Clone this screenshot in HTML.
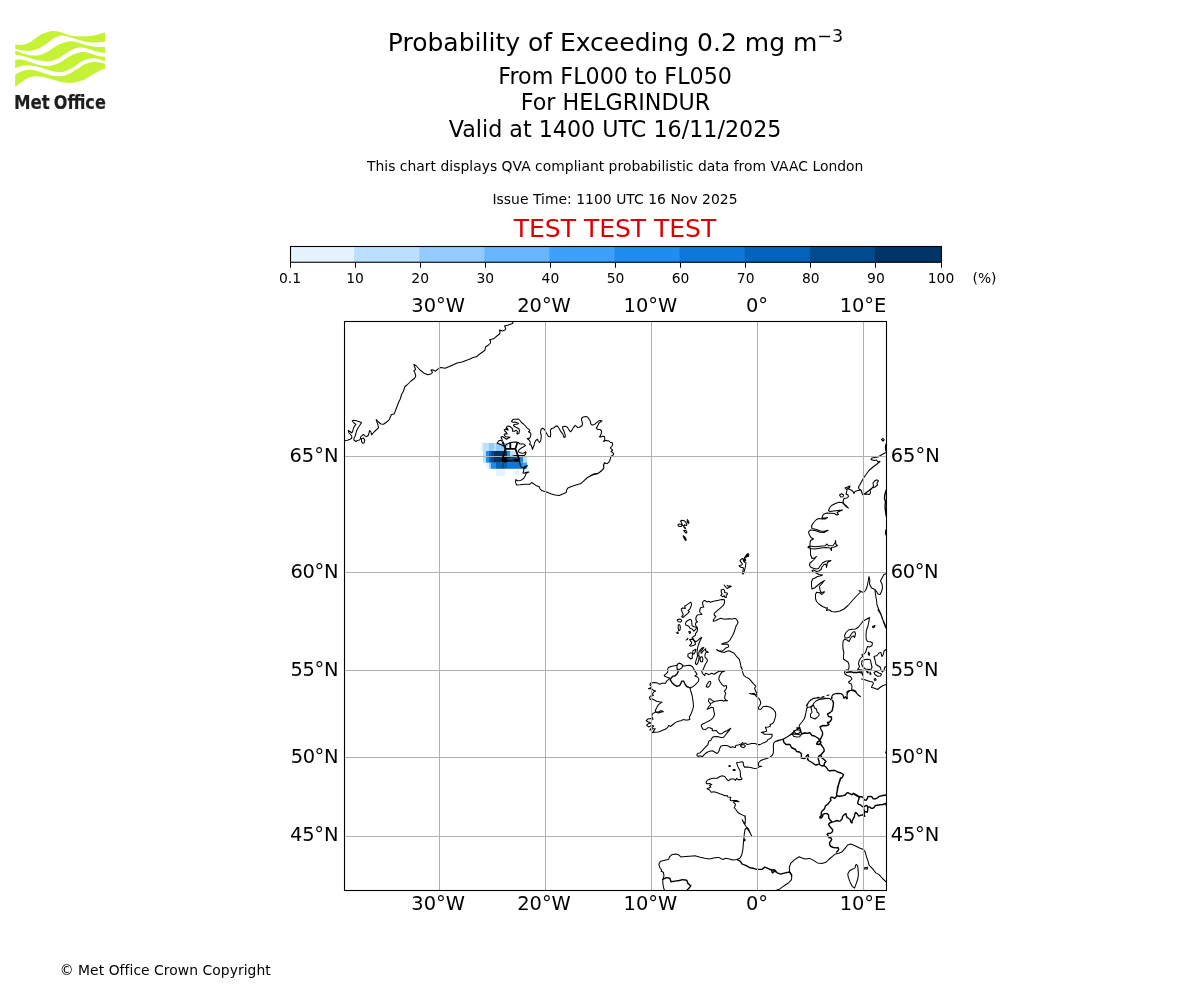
<!DOCTYPE html>
<html lang="en"><head><meta charset="utf-8"><title>Probability of Exceeding 0.2 mg m-3</title>
<style>
html,body{margin:0;padding:0;background:#fff}
body{width:1200px;height:1000px;overflow:hidden}
svg{display:block}
svg text{font-family:"DejaVu Sans","Liberation Sans",sans-serif}
</style></head><body>
<svg width="1200" height="1000" viewBox="0 0 1200 1000">
<rect width="1200" height="1000" fill="#fff"/>
<path d="M15.17 44.58 C16.39 44.62 19.89 45.32 22.50 44.83 C25.11 44.35 28.06 43.17 30.83 41.67 C33.61 40.17 36.39 37.43 39.17 35.83 C41.94 34.24 45.00 32.89 47.50 32.08 C50.00 31.28 51.81 30.93 54.17 31.00 C56.53 31.07 59.03 31.76 61.67 32.50 C64.31 33.24 66.81 34.79 70.00 35.42 C73.19 36.04 76.94 36.25 80.83 36.25 C84.72 36.25 89.31 36.04 93.33 35.42 C97.36 34.79 103.06 32.99 105.00 32.50 L105.00 41.67 C103.06 41.81 96.67 42.50 93.33 42.50 C90.00 42.50 87.78 42.22 85.00 41.67 C82.22 41.11 79.44 40.00 76.67 39.17 C73.89 38.33 70.83 37.29 68.33 36.67 C65.83 36.04 63.89 35.28 61.67 35.42 C59.44 35.56 57.36 36.25 55.00 37.50 C52.64 38.75 50.14 41.11 47.50 42.92 C44.86 44.72 41.94 47.01 39.17 48.33 C36.39 49.65 33.61 50.49 30.83 50.83 C28.06 51.18 25.11 50.76 22.50 50.42 C19.89 50.07 16.39 49.03 15.17 48.75Z M15.17 50.83 C16.39 51.25 19.89 52.57 22.50 53.33 C25.11 54.10 28.06 55.14 30.83 55.42 C33.61 55.69 36.39 55.62 39.17 55.00 C41.94 54.38 44.72 53.13 47.50 51.67 C50.28 50.21 53.06 47.78 55.83 46.25 C58.61 44.72 61.53 43.33 64.17 42.50 C66.81 41.67 69.17 41.18 71.67 41.25 C74.17 41.32 76.25 42.15 79.17 42.92 C82.08 43.68 86.11 45.14 89.17 45.83 C92.22 46.53 94.86 46.87 97.50 47.08 C100.14 47.29 103.75 47.08 105.00 47.08 L105.00 52.92 C103.75 52.71 100.14 52.29 97.50 51.67 C94.86 51.04 91.94 49.86 89.17 49.17 C86.39 48.47 83.33 47.57 80.83 47.50 C78.33 47.43 76.53 47.85 74.17 48.75 C71.81 49.65 69.31 51.32 66.67 52.92 C64.03 54.51 61.11 56.94 58.33 58.33 C55.56 59.72 52.78 60.83 50.00 61.25 C47.22 61.67 44.44 61.18 41.67 60.83 C38.89 60.49 36.25 59.93 33.33 59.17 C30.42 58.40 27.19 57.01 24.17 56.25 C21.14 55.49 16.67 54.86 15.17 54.58Z M15.17 60.00 C16.11 59.93 18.92 59.44 20.83 59.58 C22.75 59.72 24.31 60.14 26.67 60.83 C29.03 61.53 32.22 62.92 35.00 63.75 C37.78 64.58 40.56 65.56 43.33 65.83 C46.11 66.11 48.89 65.97 51.67 65.42 C54.44 64.86 57.22 63.89 60.00 62.50 C62.78 61.11 65.56 58.61 68.33 57.08 C71.11 55.56 74.17 54.17 76.67 53.33 C79.17 52.50 81.11 52.08 83.33 52.08 C85.56 52.08 87.64 52.71 90.00 53.33 C92.36 53.96 95.00 55.21 97.50 55.83 C100.00 56.46 103.75 56.88 105.00 57.08 L105.00 61.25 C104.17 60.97 101.94 60.07 100.00 59.58 C98.06 59.10 95.56 58.40 93.33 58.33 C91.11 58.26 88.89 58.47 86.67 59.17 C84.44 59.86 82.50 60.97 80.00 62.50 C77.50 64.03 74.44 66.81 71.67 68.33 C68.89 69.86 66.11 71.11 63.33 71.67 C60.56 72.22 57.78 72.01 55.00 71.67 C52.22 71.32 49.44 70.42 46.67 69.58 C43.89 68.75 41.11 67.36 38.33 66.67 C35.56 65.97 32.64 65.56 30.00 65.42 C27.36 65.28 24.97 65.35 22.50 65.83 C20.03 66.32 16.39 67.92 15.17 68.33Z M15.17 75.00 C15.97 74.51 18.08 72.92 20.00 72.08 C21.92 71.25 24.17 70.28 26.67 70.00 C29.17 69.72 32.22 69.93 35.00 70.42 C37.78 70.90 40.56 72.08 43.33 72.92 C46.11 73.75 48.89 74.86 51.67 75.42 C54.44 75.97 57.22 76.46 60.00 76.25 C62.78 76.04 65.56 75.35 68.33 74.17 C71.11 72.99 73.89 70.83 76.67 69.17 C79.44 67.50 82.22 65.35 85.00 64.17 C87.78 62.99 90.83 62.36 93.33 62.08 C95.83 61.81 98.06 62.22 100.00 62.50 C101.94 62.78 104.17 63.54 105.00 63.75 L105.00 68.75 C104.17 69.03 101.94 69.51 100.00 70.42 C98.06 71.32 95.83 72.71 93.33 74.17 C90.83 75.62 87.78 77.85 85.00 79.17 C82.22 80.49 79.44 81.46 76.67 82.08 C73.89 82.71 71.11 82.99 68.33 82.92 C65.56 82.85 62.78 82.29 60.00 81.67 C57.22 81.04 54.44 79.93 51.67 79.17 C48.89 78.40 46.11 77.57 43.33 77.08 C40.56 76.60 37.50 76.11 35.00 76.25 C32.50 76.39 30.56 76.94 28.33 77.92 C26.11 78.89 23.86 80.56 21.67 82.08 C19.47 83.61 16.25 86.25 15.17 87.08Z" fill="#c5f235"/><g font-size="19.9" font-weight="bold" fill="#1e1e1e" stroke="#1e1e1e" stroke-width="0.2" style="font-family:'Liberation Sans',sans-serif"><text x="13.9" y="108.6" textLength="35.8" lengthAdjust="spacingAndGlyphs">Met</text><text x="53.8" y="108.6" textLength="52.0" lengthAdjust="spacingAndGlyphs">Office</text></g>
<text x="615.5" y="51" font-size="25" text-anchor="middle">Probability of Exceeding 0.2 mg m<tspan font-size="17.5" dy="-9.4">−3</tspan></text>
<text x="615.1" y="84" font-size="22.22" text-anchor="middle" fill="#000">From FL000 to FL050</text>
<text x="615.5" y="110.2" font-size="22.22" text-anchor="middle" fill="#000">For HELGRINDUR</text>
<text x="615.1" y="136.6" font-size="22.22" text-anchor="middle" fill="#000">Valid at 1400 UTC 16/11/2025</text>
<text x="615.2" y="171" font-size="13.89" text-anchor="middle" fill="#000" letter-spacing="0.023">This chart displays QVA compliant probabilistic data from VAAC London</text>
<text x="615.0" y="203.8" font-size="13.89" text-anchor="middle" fill="#000" letter-spacing="0.04">Issue Time: 1100 UTC 16 Nov 2025</text>
<text x="615.0" y="237" font-size="25" text-anchor="middle" fill="#dd0000">TEST TEST TEST</text>
<text x="59.7" y="975" font-size="13.89" text-anchor="start" fill="#000" letter-spacing="0.05">© Met Office Crown Copyright</text>
<rect x="290.00" y="246.5" width="64.70" height="16.0" fill="#e5f3ff"/>
<rect x="354.10" y="246.5" width="65.70" height="16.0" fill="#badfff"/>
<rect x="419.20" y="246.5" width="65.70" height="16.0" fill="#93cbff"/>
<rect x="484.30" y="246.5" width="65.70" height="16.0" fill="#66b5fd"/>
<rect x="549.40" y="246.5" width="65.70" height="16.0" fill="#3da1fc"/>
<rect x="614.50" y="246.5" width="65.70" height="16.0" fill="#1f8cf0"/>
<rect x="679.60" y="246.5" width="65.70" height="16.0" fill="#0e77da"/>
<rect x="744.70" y="246.5" width="65.70" height="16.0" fill="#0463bc"/>
<rect x="809.80" y="246.5" width="65.70" height="16.0" fill="#004b8f"/>
<rect x="874.90" y="246.5" width="66.70" height="16.0" fill="#003466"/>
<rect x="290.5" y="246.5" width="651.0" height="15.75" fill="none" stroke="#000" stroke-width="1.1"/>
<line x1="290.5" y1="262.5" x2="290.5" y2="267.7" stroke="#000" stroke-width="1"/>
<text x="290.0" y="283.3" font-size="13.89" text-anchor="middle" fill="#000">0.1</text>
<line x1="355.5" y1="262.5" x2="355.5" y2="267.7" stroke="#000" stroke-width="1"/>
<text x="355.1" y="283.3" font-size="13.89" text-anchor="middle" fill="#000">10</text>
<line x1="420.5" y1="262.5" x2="420.5" y2="267.7" stroke="#000" stroke-width="1"/>
<text x="420.2" y="283.3" font-size="13.89" text-anchor="middle" fill="#000">20</text>
<line x1="485.5" y1="262.5" x2="485.5" y2="267.7" stroke="#000" stroke-width="1"/>
<text x="485.3" y="283.3" font-size="13.89" text-anchor="middle" fill="#000">30</text>
<line x1="550.5" y1="262.5" x2="550.5" y2="267.7" stroke="#000" stroke-width="1"/>
<text x="550.4" y="283.3" font-size="13.89" text-anchor="middle" fill="#000">40</text>
<line x1="615.5" y1="262.5" x2="615.5" y2="267.7" stroke="#000" stroke-width="1"/>
<text x="615.5" y="283.3" font-size="13.89" text-anchor="middle" fill="#000">50</text>
<line x1="680.5" y1="262.5" x2="680.5" y2="267.7" stroke="#000" stroke-width="1"/>
<text x="680.6" y="283.3" font-size="13.89" text-anchor="middle" fill="#000">60</text>
<line x1="745.5" y1="262.5" x2="745.5" y2="267.7" stroke="#000" stroke-width="1"/>
<text x="745.7" y="283.3" font-size="13.89" text-anchor="middle" fill="#000">70</text>
<line x1="810.5" y1="262.5" x2="810.5" y2="267.7" stroke="#000" stroke-width="1"/>
<text x="810.8" y="283.3" font-size="13.89" text-anchor="middle" fill="#000">80</text>
<line x1="875.5" y1="262.5" x2="875.5" y2="267.7" stroke="#000" stroke-width="1"/>
<text x="875.9" y="283.3" font-size="13.89" text-anchor="middle" fill="#000">90</text>
<line x1="941.5" y1="262.5" x2="941.5" y2="267.7" stroke="#000" stroke-width="1"/>
<text x="941.0" y="283.3" font-size="13.89" text-anchor="middle" fill="#000">100</text>
<text x="984.5" y="283.3" font-size="13.89" text-anchor="middle" fill="#000">(%)</text>
<text x="438.2" y="311.7" font-size="19.44" text-anchor="middle" fill="#000">30°W</text>
<text x="438.2" y="910" font-size="19.44" text-anchor="middle" fill="#000">30°W</text>
<text x="544.0" y="311.7" font-size="19.44" text-anchor="middle" fill="#000">20°W</text>
<text x="544.0" y="910" font-size="19.44" text-anchor="middle" fill="#000">20°W</text>
<text x="650.4" y="311.7" font-size="19.44" text-anchor="middle" fill="#000">10°W</text>
<text x="650.4" y="910" font-size="19.44" text-anchor="middle" fill="#000">10°W</text>
<text x="757.0" y="311.7" font-size="19.44" text-anchor="middle" fill="#000">0°</text>
<text x="757.0" y="910" font-size="19.44" text-anchor="middle" fill="#000">0°</text>
<text x="863.0" y="311.7" font-size="19.44" text-anchor="middle" fill="#000">10°E</text>
<text x="863.0" y="910" font-size="19.44" text-anchor="middle" fill="#000">10°E</text>
<text x="338.5" y="462.0" font-size="19.44" text-anchor="end" fill="#000">65°N</text>
<text x="890.7" y="462.0" font-size="19.44" text-anchor="start" fill="#000">65°N</text>
<text x="338.15" y="578.0" font-size="19.44" text-anchor="end" fill="#000" letter-spacing="-0.35">60°N</text>
<text x="890.7" y="578.0" font-size="19.44" text-anchor="start" fill="#000" letter-spacing="-0.35">60°N</text>
<text x="338.15" y="676.0" font-size="19.44" text-anchor="end" fill="#000" letter-spacing="-0.35">55°N</text>
<text x="890.7" y="676.0" font-size="19.44" text-anchor="start" fill="#000" letter-spacing="-0.35">55°N</text>
<text x="338.1" y="763.0" font-size="19.44" text-anchor="end" fill="#000" letter-spacing="-0.4">50°N</text>
<text x="890.7" y="763.0" font-size="19.44" text-anchor="start" fill="#000" letter-spacing="-0.4">50°N</text>
<text x="338.35" y="841.3" font-size="19.44" text-anchor="end" fill="#000" letter-spacing="-0.15">45°N</text>
<text x="890.7" y="841.3" font-size="19.44" text-anchor="start" fill="#000" letter-spacing="-0.15">45°N</text>
<clipPath id="mc"><rect x="344.5" y="321.5" width="542.0" height="569.0"/></clipPath>
<g clip-path="url(#mc)">
<rect x="481" y="443" width="2.0" height="8.0" fill="#e5f3ff"/><rect x="483" y="443" width="6.0" height="8.0" fill="#badfff"/><rect x="489" y="443" width="5.0" height="8.0" fill="#93cbff"/><rect x="494" y="443" width="2.0" height="8.0" fill="#badfff"/><rect x="496" y="443" width="11.5" height="8.0" fill="#93cbff"/><rect x="483" y="451" width="3.0" height="11.8" fill="#badfff"/><rect x="486" y="451" width="3.0" height="11.8" fill="#1f8cf0"/><rect x="489" y="451" width="2.0" height="11.8" fill="#0463bc"/><rect x="491" y="451" width="3.0" height="11.8" fill="#004b8f"/><rect x="494" y="451" width="13.0" height="11.8" fill="#003466"/><rect x="507" y="451" width="3.0" height="6.0" fill="#1f8cf0"/><rect x="510" y="451" width="5.3" height="6.0" fill="#badfff"/><rect x="515.3" y="451" width="3.7" height="6.0" fill="#e5f3ff"/><rect x="507" y="457" width="12.0" height="5.8" fill="#004b8f"/><rect x="519" y="457" width="4.0" height="5.8" fill="#1f8cf0"/><rect x="523" y="457" width="4.0" height="5.8" fill="#badfff"/><rect x="486" y="462.8" width="3.0" height="6.0" fill="#e5f3ff"/><rect x="489" y="462.8" width="2.0" height="6.0" fill="#93cbff"/><rect x="491" y="462.8" width="5.0" height="6.0" fill="#1f8cf0"/><rect x="496" y="462.8" width="6.0" height="6.0" fill="#0463bc"/><rect x="502" y="462.8" width="2.0" height="6.0" fill="#004b8f"/><rect x="504" y="462.8" width="3.0" height="6.0" fill="#0463bc"/><rect x="507" y="462.8" width="14.0" height="6.0" fill="#0e77da"/><rect x="521" y="462.8" width="6.0" height="6.0" fill="#1f8cf0"/><rect x="523" y="462.8" width="4.0" height="3.0" fill="#3da1fc"/><rect x="496" y="470.1" width="9.0" height="5.7" fill="#e5f3ff"/><rect x="515" y="470.1" width="4.0" height="5.7" fill="#e5f3ff"/>
<path d="M344.5 440.5 L347.5 440.3 L350.0 439.2 L351.7 438.2 L351.8 436.0 L350.5 434.5 L349.0 433.0 L348.3 430.5 L350.0 431.5 L351.8 433.0 L352.8 431.0 L353.5 428.0 L355.0 425.5 L356.0 424.5 L354.0 423.0 L352.2 421.0 L353.5 420.3 L356.5 420.8 L361.5 422.5 L360.0 425.0 L358.0 428.0 L356.5 431.0 L355.8 434.0 L355.0 436.5 L353.8 438.5 L354.0 440.0 L356.0 441.5 L357.5 440.5 L359.5 440.0 L360.5 439.0 L360.5 437.0 L362.0 435.5 L363.5 434.3 L364.8 436.0 L366.8 436.5 L368.2 435.5 L369.0 433.0 L369.7 430.5 L371.0 432.0 L371.5 434.8 L374.5 431.5 L378.5 427.8 L378.0 425.0 L377.0 422.0 L376.2 419.5 L378.5 422.0 L381.0 424.0 L383.5 424.3 L387.0 421.8 L389.5 419.3 L390.5 416.5 L391.5 414.5 L394.0 414.0 L395.0 412.0 L397.0 406.5 L399.0 401.5 L400.5 398.5 L401.5 394.5 L403.0 392.0 L404.5 388.0 M361.5 438.5 L363.5 438.0 L364.8 440.0 L364.0 443.0 L362.5 443.2 L361.5 441.2Z M404.5 388.0 L405.0 386.5 L407.0 385.0 L411.0 381.0 L414.5 378.5 L415.8 376.0 L415.0 373.0 L413.8 370.8 L415.5 369.5 L414.8 367.0 L413.8 364.5 L416.0 365.5 L420.0 370.0 L424.0 373.2 L428.0 374.8 L431.0 374.0 L432.5 372.5 L431.0 370.0 L432.5 369.7 L435.5 371.2 L437.5 369.5 L439.0 368.0 L441.0 367.5 L445.0 368.3 L450.0 366.3 L457.0 363.0 L462.0 362.0 L470.0 359.0 L473.0 357.5 L476.5 356.8 L479.0 354.5 L483.0 351.8 L485.0 350.0 L485.5 347.0 L488.5 345.0 L490.5 343.0 L490.5 340.5 L489.5 339.8 L493.5 338.8 L497.5 335.5 L499.5 334.0 L500.0 332.0 L499.5 330.0 L502.5 331.0 L505.0 330.0 L505.8 328.5 L504.5 326.0 L507.5 325.2 L512.5 323.5 L513.0 321.5 M497.2 443.0 L499.0 444.0 L501.5 445.0 L503.8 446.0 L505.2 446.8 L506.2 444.6 L508.5 443.6 L510.5 442.7 L513.5 442.1 L516.5 442.1 L518.5 442.6 L520.0 444.0 L522.0 444.0 L524.0 444.0 L525.5 445.5 L523.5 446.8 L521.0 448.2 L519.0 450.0 L518.2 451.2 L519.2 452.5 L522.0 453.2 L524.0 453.0 L525.8 451.8 L526.0 452.8 L525.2 454.8 L524.0 455.5 L521.0 455.5 L518.0 455.5 L514.5 455.5 M497.2 443.0 L498.8 440.8 L500.5 440.2 L502.2 441.2 L502.0 439.2 L501.0 437.2 L502.2 436.5 L504.0 437.5 L506.5 439.2 L508.0 438.2 L510.0 437.2 L508.5 437.0 L506.0 436.8 L504.5 435.5 L504.2 434.2 L505.5 433.8 L507.2 434.0 L506.5 432.5 L504.8 431.0 L504.2 429.8 L506.0 429.0 L508.0 430.2 L507.5 428.5 L506.2 428.0 L507.2 426.2 L508.5 425.9 L510.0 426.5 L511.5 427.8 L512.8 429.0 L512.5 431.2 L514.5 431.2 L516.0 430.2 L516.8 430.8 L517.5 431.5 L516.8 433.8 L517.5 434.0 L519.0 433.2 L519.5 430.5 L518.8 428.8 L517.0 427.8 L515.0 426.8 L513.5 425.8 L513.8 424.5 L516.0 424.2 L518.0 424.0 L518.5 423.2 L517.0 422.8 L515.5 422.0 L513.0 422.2 L511.5 421.5 L512.5 420.0 L513.5 419.2 L516.0 419.2 L518.5 419.0 L520.0 420.5 L521.5 422.5 L523.5 424.0 L525.5 426.0 L527.2 428.2 L529.8 430.2 L529.5 431.2 L528.5 431.8 L530.2 432.8 L531.0 434.0 L530.5 436.0 L530.0 437.8 L528.8 438.5 L527.2 438.5 L529.0 440.0 L530.2 441.5 L530.2 443.2 L529.5 444.2 L531.2 445.2 L532.0 447.2 L532.5 449.5 L533.2 447.2 L534.2 445.0 L534.5 442.8 L536.0 440.2 L537.5 439.2 L538.2 441.0 L539.5 442.5 L540.5 441.2 L541.2 438.0 L541.2 435.0 L540.5 432.5 L541.0 429.5 L542.5 428.2 L544.0 429.0 L545.2 430.8 L546.0 432.2 M546.0 432.4 L548.4 436.5 L550.4 436.8 L550.7 434.1 L550.4 430.1 L551.7 428.4 L553.7 428.0 L555.7 426.1 L557.4 426.1 L558.7 427.8 L560.7 431.4 L562.8 433.8 L563.8 437.1 L564.8 437.5 L565.4 435.8 L564.1 431.4 L562.6 428.4 L562.8 426.4 L565.1 426.3 L567.4 427.3 L569.1 430.1 L570.5 431.8 L571.8 430.4 L573.8 427.1 L575.2 425.4 L576.2 426.1 L577.8 427.6 L579.5 427.3 L582.2 425.5 L582.5 423.1 L581.5 420.1 L581.5 418.4 L583.2 417.0 L585.9 416.6 L587.5 417.0 L589.2 419.4 L590.6 421.7 L590.6 423.7 L592.2 425.1 L594.6 424.4 L596.9 422.4 L598.6 421.1 L600.3 420.4 L602.0 421.1 L599.9 422.4 L598.6 423.7 L597.6 426.1 L596.3 428.1 L597.6 429.4 L600.3 429.6 L601.6 431.1 L601.3 433.5 L600.3 435.8 L599.3 436.8 L600.6 437.1 L602.6 436.3 L604.3 436.5 L604.8 438.1 L604.6 440.2 L603.3 441.5 L605.3 440.5 L608.3 440.7 L610.3 442.2 L612.3 442.8 L612.7 444.5 L611.7 446.5 L610.3 447.9 L611.3 448.9 L612.7 450.1 L611.0 451.5 L612.7 452.5 L613.7 453.9 L612.7 455.6 L611.0 456.2 L610.3 459.2 L609.3 461.6 L607.3 463.6 L605.0 463.3 L604.3 462.9 L603.3 465.6 L604.0 467.3 L603.0 469.6 L600.6 471.3 L598.3 473.3 L595.9 473.5 L593.2 474.2 L590.6 475.7 L588.6 477.0 M605.0 462.5 L603.8 464.6 L603.8 467.9 L601.7 470.8 L597.5 473.8 L592.5 475.0 L587.5 477.5 L583.8 480.8 L580.4 483.8 L575.8 485.0 L570.8 486.7 L567.9 487.9 L566.7 490.0 L566.2 492.5 L563.3 493.8 L559.2 495.4 L555.0 495.0 L550.8 493.8 L545.8 491.7 L542.1 490.8 L540.0 488.8 L539.2 486.7 L535.8 485.4 L532.9 483.3 L531.7 482.5 L530.0 484.2 L525.0 484.3 L520.0 484.8 L516.7 485.0 L515.4 482.1 L515.8 479.6 L517.5 480.8 L520.8 480.4 L523.8 478.3 L525.4 475.4 L526.2 473.3 L528.8 472.1 L526.2 472.3 L524.2 473.3 L522.9 472.9 L523.8 470.8 L523.8 468.8 L525.4 467.1 L527.5 465.7 L525.4 466.2 L523.8 467.9 L521.7 467.5 L520.4 465.8 L520.0 463.3 L519.5 461.5 L517.5 461.1 L514.2 460.7 L510.0 460.7 L506.7 461.0 L503.3 460.4 L502.5 458.8 L505.0 457.5 L510.0 456.7 L514.2 455.7 M678.0 524.8 L679.5 524.1 L681.6 524.5 L682.2 525.4 L681.0 526.5 L679.2 526.6 L678.2 525.9Z M680.4 521.2 L681.9 520.3 L683.7 520.5 L685.2 521.7 L686.1 522.7 L686.7 523.9 L686.7 525.4 L685.5 525.3 L684.5 524.8 L684.2 525.9 L683.4 526.0 L682.5 525.1 L681.9 523.9 L681.6 522.4Z M683.7 530.4 L685.2 530.2 L686.6 531.1 L686.9 532.6 L686.1 533.1 L684.9 532.0 L684.0 531.1Z M744.2 558.5 L745.6 559.4 L745.4 560.6 L744.5 561.2 L745.1 562.1 L745.9 562.7 L745.7 564.8 L745.3 567.2 L744.7 569.6 L744.2 571.7 L742.7 572.0 L743.0 570.2 L743.5 568.4 L743.0 567.5 L741.5 567.5 L740.0 566.8 L739.1 565.7 L740.0 565.3 L741.4 565.1 L742.4 564.2 L741.8 563.0 L740.8 561.8 L740.0 560.8 L740.9 559.7 L742.1 558.5 L743.0 558.8 L743.3 560.0 L743.6 561.2 L744.4 562.1Z M703.8 668.0 L705.4 664.2 L707.5 660.8 L706.7 658.8 L705.0 657.1 L705.0 654.2 L706.2 652.1 L708.3 652.5 L706.7 651.2 L705.4 650.8 L705.8 648.8 L704.6 649.6 L702.9 651.2 L701.2 653.3 L700.8 651.2 L702.1 649.6 L703.8 647.5 L702.1 647.9 L700.0 650.0 L698.8 652.5 L698.8 655.4 L697.5 655.8 L697.1 651.7 L697.5 648.3 L698.3 645.0 L699.6 641.7 L700.8 639.2 L701.7 637.5 L700.0 638.3 L697.9 640.4 L695.8 641.7 L694.2 640.4 L693.3 638.8 L692.1 637.9 L693.3 636.7 L695.4 635.4 L695.4 633.8 L696.7 632.1 L697.5 630.0 L697.5 627.9 L696.2 626.2 L695.4 624.6 L695.8 622.9 L697.5 621.7 L696.2 620.8 L695.8 618.3 L696.7 615.8 L697.9 614.8 L700.8 614.6 L702.1 614.3 L700.4 612.9 L699.6 611.2 L700.0 609.2 L700.8 607.5 L703.8 607.1 L702.9 605.0 L702.5 602.5 L703.8 600.7 L705.0 600.4 L707.1 602.1 L708.8 601.2 L710.4 602.3 L713.3 601.2 L717.5 600.4 L721.7 599.6 L724.2 599.6 L724.6 601.2 L724.2 603.8 L723.3 605.4 L720.0 608.3 L716.7 611.2 L714.2 613.3 L714.2 615.0 L715.8 616.5 L714.6 618.3 L713.3 620.0 L713.3 621.2 L715.4 620.8 L718.3 619.3 L720.8 618.3 L724.2 619.2 L728.3 618.8 L732.5 619.0 L735.0 618.3 L736.7 619.6 L737.9 621.7 L737.9 623.3 L736.2 625.8 L735.4 627.9 L734.6 630.8 L733.3 634.2 L731.7 637.1 L730.0 640.0 L728.3 641.7 L725.4 642.7 L723.3 643.3 L721.7 644.3 L724.2 644.3 L727.1 644.0 L728.8 645.4 L728.3 647.1 L725.8 647.9 L724.2 649.6 L722.1 651.2 L719.2 650.8 L716.7 649.6 L717.9 650.8 L720.8 651.8 L724.2 652.5 L726.7 651.2 L728.8 650.8 L731.2 651.8 L734.2 653.3 L736.7 656.7 L739.2 659.2 L740.4 663.3 L741.2 668.0 M721.2 590.0 L723.3 589.2 L724.6 590.4 L724.6 592.5 L727.1 592.9 L727.5 594.2 L726.2 595.4 L726.2 597.5 L725.0 597.5 L724.2 595.8 L722.5 596.7 L720.8 595.4 L722.1 593.8 L721.2 592.1Z M724.2 585.0 L725.4 586.7 L727.1 588.5 L728.8 587.5 L731.2 586.5 L730.0 585.8 L728.3 586.2 L727.1 585.4 M690.8 602.1 L691.7 604.2 L690.8 607.1 L689.6 609.6 L687.9 610.4 L689.2 611.7 L687.9 613.3 L685.4 615.4 L682.9 617.5 L681.7 616.5 L683.3 614.6 L682.5 612.9 L681.7 610.8 L681.2 609.2 L682.5 607.9 L685.4 608.5 L684.6 606.2 L687.1 604.6 L689.6 602.9Z M677.1 620.0 L679.2 619.0 L681.2 619.6 L681.7 620.8 L680.4 622.1 L678.3 621.7Z M678.3 624.8 L679.8 624.8 L680.4 627.5 L680.0 630.0 L678.8 630.7 L678.2 628.3Z M676.7 632.5 L677.9 632.1 L678.3 633.2 L677.3 633.5Z M685.4 623.3 L686.7 621.2 L690.0 619.2 L691.5 620.4 L691.8 623.3 L692.1 625.8 L694.2 626.7 L697.1 627.5 L695.4 629.6 L693.8 631.2 L692.5 629.2 L690.0 628.3 L688.8 626.2 L687.1 625.4 L685.8 625.0Z M688.8 631.7 L690.0 631.2 L690.7 632.7 L689.6 633.5Z M686.2 640.0 L687.9 638.3 L687.1 639.6Z M689.6 639.6 L692.1 639.2 L693.8 640.4 L695.0 642.1 L695.4 644.6 L693.3 645.4 L690.8 646.2 L689.6 645.4 L691.2 644.2 L691.7 642.1 L690.4 641.0Z M687.9 654.2 L690.4 652.9 L692.9 653.3 L692.1 656.2 L692.5 657.9 L690.8 659.0 L689.2 657.5 L687.9 656.7Z M692.9 650.8 L695.8 649.2 L695.4 651.7 L693.8 654.2 L692.7 653.3Z M697.5 655.8 L699.2 656.2 L698.8 659.6 L697.9 662.9 L696.7 664.6 L695.4 663.8 L695.8 661.2 L696.8 658.3Z M700.4 657.1 L702.1 656.7 L702.9 659.2 L702.5 661.7 L700.8 661.7 L700.0 659.6Z M703.8 668.0 L702.9 670.0 L701.7 671.2 L702.5 673.3 L704.6 675.7 L705.4 673.3 L707.1 673.8 L708.8 674.6 L711.7 673.2 L714.2 674.3 L716.7 672.5 L719.2 671.2 L722.1 671.2 L724.6 671.2 L722.1 672.1 L720.4 674.2 L719.2 676.7 L718.8 679.2 L720.0 681.7 L722.1 684.6 L723.8 686.2 L726.2 685.4 L726.7 687.5 L725.8 689.6 L724.3 691.2 L725.8 693.3 L725.0 695.4 L724.6 698.3 L725.8 700.0 L727.5 700.8 L725.0 700.4 L723.3 701.2 L722.1 700.2 L718.3 700.7 L714.2 701.5 L712.1 700.4 L710.4 698.8 L708.8 699.0 L708.5 701.2 L710.0 703.3 L712.1 702.9 L714.2 701.5 M710.4 703.8 L710.4 705.0 L708.8 706.7 L707.1 709.2 L709.6 708.3 L711.7 707.3 L713.3 707.7 L713.8 710.8 L714.6 714.2 L713.3 717.5 L711.2 719.6 L708.3 721.2 L705.0 722.9 L702.1 724.2 L701.2 725.4 L702.1 727.9 L703.3 729.3 L705.4 729.6 L707.9 727.7 L710.0 727.7 L712.5 729.0 L712.1 730.8 L714.2 730.8 L716.2 730.4 L717.9 732.5 L719.6 733.8 L721.7 733.8 L724.2 731.8 L727.1 730.7 L730.8 728.3 L729.2 730.4 L726.7 733.3 L724.6 736.2 L723.3 737.5 L720.8 737.5 L717.5 736.5 L713.3 736.7 L712.1 737.9 L710.8 740.2 L708.8 741.2 L708.3 743.0 M741.2 668.0 L741.7 667.5 L742.5 671.7 L743.8 675.4 L746.2 677.1 L749.2 678.8 L751.2 681.2 L753.8 684.2 L755.8 686.2 L754.6 688.3 L755.8 691.2 L757.1 694.2 L755.8 695.4 L754.2 693.3 L751.7 693.8 L749.6 693.5 L752.5 694.2 L754.6 694.6 L756.7 696.7 L758.8 698.3 L760.4 701.2 L760.8 703.3 L759.6 705.7 L758.2 707.5 L758.8 709.2 L760.8 709.3 L763.3 706.5 L766.7 706.2 L770.4 707.3 L773.3 709.3 L775.4 712.1 L775.8 715.0 L775.0 718.3 L773.8 722.1 L772.1 723.8 L770.0 724.6 L770.4 726.2 L768.3 727.1 L765.4 727.3 L766.2 729.2 L766.7 731.2 L764.2 731.8 L761.2 732.5 L763.3 732.9 L764.2 734.2 L768.3 734.2 L772.1 734.2 L772.1 736.2 M706.2 686.7 L707.1 684.2 L708.8 681.8 L710.4 681.2 L710.8 683.3 L709.6 685.8 L707.9 687.3Z M708.3 743.0 L707.9 744.6 L705.4 747.1 L702.5 750.4 L700.0 752.9 L697.9 753.3 L696.7 755.0 L697.9 756.5 L700.0 755.8 L702.5 756.7 L704.2 754.6 L706.7 752.5 L709.6 751.2 L712.5 750.7 L715.0 752.3 L717.1 753.5 L718.8 751.7 L719.6 748.8 L720.8 746.2 L723.3 745.4 L726.7 745.4 L728.8 746.2 L730.4 747.5 L732.5 746.7 L735.4 747.5 L735.7 745.4 L739.2 744.8 L741.7 743.8 L742.5 742.5 L743.3 743.3 L745.4 743.3 L747.5 744.6 L751.7 743.5 L755.0 743.5 L757.5 744.6 L760.0 744.6 L763.3 742.9 L766.7 741.5 L767.9 739.6 L770.8 738.2 L772.1 736.2 M740.4 745.8 L742.1 744.6 L744.6 745.0 L745.4 746.2 L743.8 747.7 L741.7 747.1Z M800.0 727.5 L795.0 730.8 L790.0 735.0 L786.7 737.1 L783.3 739.2 L778.3 740.2 L775.0 741.7 L773.8 743.0 L773.3 745.8 L773.5 749.2 L773.3 752.9 L772.1 755.4 L770.0 757.1 L767.5 758.3 L763.3 759.6 L760.4 760.8 L758.8 762.5 L758.3 765.0 L759.2 766.2 L761.7 766.2 L758.8 767.1 L756.7 768.3 L754.2 768.5 L750.8 767.5 L747.5 767.1 L744.6 767.1 L743.3 765.0 L743.3 762.5 L742.1 761.8 L739.2 762.3 L736.7 762.5 L737.1 764.6 L738.3 767.5 L740.0 770.4 L740.4 773.3 L740.4 776.7 L742.1 778.8 L741.2 779.6 L737.9 779.6 L736.7 778.3 L735.4 780.4 L734.2 779.0 L730.8 779.0 L728.3 780.8 L726.7 779.2 L725.0 776.7 L722.5 775.8 L720.0 776.5 L717.1 778.2 L713.3 778.3 L710.0 779.0 L707.1 780.4 L706.0 782.5 L706.7 783.8 L709.6 783.5 L711.8 784.6 L709.6 785.4 L710.8 787.1 L708.8 787.9 L707.1 788.8 L709.6 790.0 L711.2 792.3 L713.8 791.7 L716.7 792.5 L719.6 793.8 L722.9 794.8 L725.0 795.7 L727.1 795.4 L727.9 797.1 L730.8 797.3 L730.0 799.6 L730.8 800.8 L733.8 800.4 L736.7 800.4 L738.8 801.7 L735.8 801.2 L733.3 802.1 L735.4 804.2 L735.0 806.2 L734.2 807.5 L736.2 810.0 L737.9 812.5 L740.8 814.2 L743.3 815.4 L745.0 816.2 L745.0 818.0 M729.0 765.5 L730.2 765.5 L730.2 766.5 L729.0 766.5Z M733.3 769.5 L735.0 769.5 L735.0 770.5 L733.3 770.5Z M668.3 667.6 L671.0 666.5 L674.6 665.8 L676.8 665.3 L677.7 664.0 L679.5 663.3 L681.8 664.4 L683.6 666.2 L686.7 665.6 L689.9 665.3 L692.6 666.7 L693.9 669.4 L695.7 672.1 L697.1 674.3 L694.8 676.1 L697.5 677.0 L698.9 678.8 L698.4 681.5 L696.6 683.3 L694.8 685.1 L692.6 686.9 L689.9 687.6 L690.8 691.0 L692.1 695.5 L693.0 700.9 L693.5 706.3 L692.6 709.9 L691.2 713.5 L689.4 717.1 L689.9 719.3 L688.1 720.0 L685.4 720.0 L683.1 719.6 L680.9 720.7 L677.7 721.4 L675.0 722.9 L672.3 725.0 L670.5 726.5 L668.7 725.4 L667.8 727.4 L665.1 729.2 L661.5 730.8 L658.4 731.9 L655.2 732.2 L652.5 732.6 L654.3 730.1 L655.2 728.8 L653.0 728.8 L649.8 730.1 L651.6 727.9 L653.9 726.1 L651.6 725.6 L648.5 727.0 L646.7 725.2 L648.5 723.6 L651.2 722.9 L648.5 722.0 L646.2 720.7 L648.0 718.9 L650.7 718.4 L653.0 719.3 L651.6 716.2 L652.5 713.9 L655.2 712.1 L658.4 713.0 L661.5 712.1 L663.3 711.7 L661.5 710.6 L658.8 711.7 L656.1 711.9 L655.2 710.8 L656.6 708.1 L657.9 705.4 L659.7 703.6 L662.0 702.2 L659.3 701.8 L656.6 701.3 L654.3 700.0 L652.1 699.1 L650.3 699.5 L649.4 697.3 L650.7 695.9 L653.4 695.5 L652.5 693.7 L653.9 691.9 L655.7 691.0 L653.4 690.3 L651.6 688.7 L648.5 688.7 L650.7 687.8 L651.6 686.0 L649.8 684.7 L650.7 683.1 L654.3 682.4 L657.5 683.1 L659.7 684.2 L662.0 683.3 L665.6 683.3 L666.5 681.1 L668.7 679.3 L669.6 677.9 L667.4 677.3 L665.1 676.6 L664.2 675.5 L666.0 673.9 L667.8 672.1 L667.6 669.6Z M677.7 664.0 L676.8 666.7 L677.3 668.9 L679.5 669.4 L681.8 668.0 L682.7 665.8 L680.9 663.5 L679.1 663.3Z M886.5 452.2 L882.0 454.5 L878.0 457.0 L875.0 457.5 L872.0 458.0 L871.0 459.5 L874.0 460.5 L876.5 460.0 L878.0 462.0 L880.0 461.5 L877.0 464.0 L873.0 467.0 L869.0 470.5 L866.0 474.5 L863.0 479.0 L860.5 483.5 L858.5 487.0 L859.0 489.0 L860.5 490.0 L857.0 490.8 L855.0 491.5 L854.0 493.5 L853.0 491.5 L851.0 490.0 L849.0 489.0 L847.0 489.0 L849.5 487.5 L850.0 486.0 L847.5 487.0 L845.0 488.0 L847.0 490.0 L846.5 492.5 L846.0 494.0 L848.0 495.0 L848.5 496.5 L847.0 498.0 L844.0 498.5 L843.0 501.5 L844.0 504.0 L846.5 506.0 L848.5 508.0 L846.0 506.5 L844.0 504.5 L842.0 502.5 L839.0 502.2 L835.5 503.5 L831.5 505.5 L829.5 508.0 L828.5 510.5 L830.0 511.5 L833.5 511.0 L838.0 510.5 L842.5 510.0 L839.0 511.5 L837.0 512.5 L838.5 514.5 L836.5 515.0 L834.5 513.5 L831.0 513.2 L827.0 513.0 L824.0 514.0 L822.5 516.0 L822.0 518.0 L825.0 518.0 L827.5 517.5 L825.0 519.0 L822.0 519.0 L819.0 518.5 L816.5 519.5 L814.5 521.5 L812.5 524.0 L811.5 526.5 L812.0 528.5 M861.0 490.0 L862.5 494.5 L866.5 494.0 L869.5 494.5 L870.5 493.0 L870.0 490.5 L871.5 489.0 L873.5 486.0 L873.0 483.0 L874.5 481.0 L877.0 479.8 L878.5 481.0 L877.0 483.0 L877.5 485.0 L875.0 487.0 L872.0 488.0 L869.0 490.5 L865.0 493.5 L862.8 494.8 M839.5 495.0 L841.5 493.8 L843.5 494.8 L843.0 496.8 L840.8 497.0Z M881.5 439.5 L883.0 438.5 L884.2 439.8 L883.0 441.2Z M811.5 526.0 L812.0 528.5 L816.5 529.5 L821.0 531.2 L825.0 531.0 L828.0 530.2 L824.0 532.5 L820.0 532.2 L815.0 530.5 L810.0 530.0 L808.5 532.0 L809.5 535.0 L811.0 537.5 L813.5 539.0 L810.5 540.5 L810.0 543.5 L810.0 546.0 L815.0 546.8 L820.0 546.2 L825.0 545.8 L827.0 544.0 L828.5 545.8 L833.0 545.5 L835.0 543.0 L835.5 540.5 L836.0 544.5 L837.5 545.5 L834.5 547.0 L831.5 547.5 L831.5 550.5 L830.0 548.0 L826.0 547.5 L821.0 548.0 L815.0 549.0 L810.5 548.5 L808.0 547.5 L808.5 546.2 L810.0 547.0 L810.5 550.0 L810.5 554.5 L812.0 558.5 L814.5 558.0 L816.5 556.5 L814.0 559.5 L812.0 561.5 L810.0 563.0 L809.5 565.0 L810.5 567.0 L812.5 568.0 L816.0 569.0 L818.5 568.5 L820.5 565.5 L822.5 563.0 L825.5 561.2 L831.0 560.5 L827.5 562.5 L826.5 567.5 L826.0 564.0 L824.0 564.5 L822.0 567.0 L821.0 569.5 L819.0 571.0 L816.5 571.5 L813.5 570.0 L812.0 570.5 L813.0 572.0 L816.0 573.0 L819.0 574.5 L822.5 575.0 L820.0 576.0 L817.5 576.5 L815.0 578.0 L812.5 579.0 L811.5 582.0 L811.5 586.0 L812.0 589.0 L814.5 588.0 L817.5 585.5 L820.5 583.0 L824.5 580.5 L822.0 583.5 L819.5 586.5 L820.0 590.0 L821.0 592.5 L824.5 591.8 L822.0 594.5 L819.5 592.8 L816.5 592.2 L815.5 594.5 L815.5 598.5 L816.5 601.5 L819.0 604.0 L822.5 606.5 L826.0 608.0 L827.5 607.8 L826.5 610.5 L829.5 609.8 L831.5 611.5 L835.5 612.0 L840.0 611.0 L844.0 609.0 L848.0 605.5 L852.0 601.0 L856.0 596.5 L859.0 593.5 L860.5 592.0 L859.0 590.5 L861.0 591.5 L863.5 592.5 L865.5 590.5 L867.0 587.0 L868.0 582.0 L869.0 576.5 L869.8 580.0 L869.5 584.0 L871.5 588.0 L875.0 589.5 L876.5 591.5 L878.0 594.0 L880.0 594.5 L881.5 591.5 L882.5 588.0 L882.0 584.0 L880.5 581.0 L882.0 578.0 L884.0 574.5 L886.5 573.5 M875.0 590.0 L875.5 595.0 L876.5 600.0 L877.0 605.0 L879.0 610.0 L881.0 614.0 L882.0 618.0 L883.5 621.0 L885.5 626.0 L886.5 629.0 M869.5 617.5 L866.0 619.5 L863.0 621.0 L860.5 624.5 L858.0 627.5 L855.5 629.0 L852.0 629.2 L848.5 630.0 L846.0 632.5 L844.5 635.5 L845.0 638.0 L847.0 638.0 L849.5 637.0 L851.0 634.5 L853.0 632.0 L855.0 631.8 L855.5 634.0 L854.5 637.5 L853.5 636.0 L852.0 636.5 L850.5 638.5 L849.0 641.5 L847.0 640.0 L844.5 639.2 L843.2 641.0 L842.8 645.0 L843.0 649.0 L843.8 652.0 L843.5 656.0 L843.5 659.0 L845.5 660.5 L848.0 662.0 L849.0 664.5 L849.0 668.0 L848.0 670.0 L846.0 670.0 L844.5 672.0 L845.0 674.0 L847.0 675.5 L850.5 676.5 L852.0 679.0 L850.0 681.0 L848.5 682.0 L849.5 683.5 L851.5 684.0 L852.0 687.0 L851.5 690.0 L853.5 690.0 L855.5 691.0 L857.0 693.5 L859.0 695.5 L860.5 696.5 L858.0 695.0 L855.0 691.5 L852.0 690.5 L849.0 690.5 L847.0 692.0 L847.0 696.0 L847.5 698.5 L845.5 697.0 L843.5 698.0 L843.0 695.0 L841.0 693.5 L837.0 693.2 L833.5 694.2 L832.0 696.0 L832.0 698.5 M869.5 617.5 L869.0 621.0 L868.0 626.0 L866.5 630.0 L866.0 635.0 L866.2 639.0 L867.5 641.5 L870.5 641.8 L872.5 643.0 L872.0 645.5 L869.5 647.0 L867.5 646.5 L866.5 649.5 L865.5 652.5 L864.0 654.0 L862.0 654.5 L862.5 656.5 L860.5 658.5 L859.0 661.0 L858.5 664.0 L859.5 666.5 L858.5 668.5 L857.5 669.5 L860.0 669.8 L862.0 670.0 L861.8 672.8 M862.0 661.0 L865.0 659.5 L868.5 659.2 L870.5 660.0 L871.0 663.0 L872.0 667.0 L871.5 669.0 L869.0 669.5 L865.5 669.0 L863.0 667.0 L861.5 664.0Z M886.5 649.2 L884.0 651.0 L883.5 654.0 L882.0 656.5 L881.5 655.0 L881.0 652.5 L879.0 653.0 L877.0 655.5 L874.0 656.5 L875.0 660.0 L876.0 664.5 L878.5 666.0 L880.5 667.5 L881.0 670.0 L882.5 672.0 L884.0 670.0 L885.0 667.0 L886.5 666.2 M874.0 672.5 L876.0 671.2 L879.0 673.0 L881.5 674.0 L880.5 676.0 L877.5 676.2 L875.0 674.8Z M868.5 652.0 L869.5 653.5 L869.2 655.5 L868.3 654.5Z M870.0 672.0 L871.0 674.0 L870.0 674.5Z M872.5 626.5 L875.0 625.5 L874.5 627.0 L873.0 627.8Z M866.5 671.2 L868.5 672.2 L867.5 673.0Z M874.2 679.0 L875.6 678.6 L876.2 680.0 L874.8 680.6Z M861.5 679.0 L864.0 679.5 L867.0 680.5 L870.0 681.5 L872.5 682.0 L873.5 683.5 L872.0 686.0 L871.5 687.5 L874.0 688.0 L877.5 689.5 L880.0 687.5 L883.0 685.5 L886.5 684.5 M878.0 610.0 L880.0 613.0 L882.0 617.0 L883.5 622.0 L885.0 626.0 L886.5 629.0 M777.0 741.2 L779.0 740.5 L783.0 739.2 L787.0 737.0 L791.0 734.5 L793.5 733.0 M793.5 731.0 L796.5 730.0 L799.5 730.0 L800.5 732.0 L798.5 733.5 L795.5 733.2Z M792.5 734.5 L795.0 734.0 L798.5 734.5 L801.0 735.0 L799.5 736.8 L796.5 737.0 L793.5 736.2Z M796.5 728.0 L799.5 727.5 L800.5 729.5 L801.2 732.0 L801.5 734.0 M799.0 727.5 L799.5 725.0 L802.0 722.0 L804.5 718.5 L805.5 715.0 L806.2 711.0 L807.0 708.0 L807.0 705.5 L808.5 702.5 L810.5 700.0 L813.5 698.5 L818.0 697.8 L822.0 698.0 L826.0 698.2 L829.5 698.5 L831.0 700.0 L831.5 697.5 L832.5 695.0 L835.0 693.8 L839.0 693.5 L842.0 694.0 L843.5 696.0 L844.0 698.5 L845.5 696.5 L846.5 699.0 L847.0 696.0 L847.5 693.0 L849.5 691.0 M807.0 707.5 L810.0 707.0 L812.5 705.5 L814.0 703.0 L816.0 701.0 L819.0 699.5 L823.0 699.0 L827.0 698.5 M813.5 705.0 L814.5 708.0 L816.5 709.0 L817.0 712.0 L819.0 713.5 L819.0 715.5 L817.0 717.5 L815.0 719.0 L812.5 718.0 L810.5 717.0 L810.5 714.0 L812.0 712.5 L811.5 709.5 L811.0 707.5Z M806.5 705.5 L808.0 703.0 M809.0 701.5 L811.0 700.0 M812.5 698.8 L815.0 698.0 M817.0 697.5 L819.0 697.2 M822.0 697.0 L824.0 696.5 M827.0 695.5 L829.0 695.0 M885.5 752.0 L886.5 754.0 L886.8 756.5 M775.0 890.8 L779.5 889.2 L784.0 885.8 L788.4 883.0 L791.2 880.2 L791.8 877.4 L791.2 874.6 L789.6 871.8 L789.3 867.3 L790.7 863.4 L794.0 860.1 L799.1 856.7 L801.3 857.8 L805.2 858.9 L809.7 858.4 L813.1 860.1 L817.5 862.9 L822.0 863.4 L825.9 862.3 L828.7 859.5 L832.1 856.7 L835.5 853.9 L838.8 853.3 L842.2 851.7 L845.0 848.3 L847.8 844.9 L850.6 844.0 L854.5 845.5 L859.0 847.7 L863.5 849.6 L865.1 851.7 L866.3 856.1 L867.9 860.6 L869.1 865.1 L871.3 867.3 L874.1 870.7 L875.8 872.9 L879.1 874.6 L882.5 878.5 L886.4 882.1 M864.6 867.7 L867.4 867.3 L867.4 869.0 L864.6 868.9Z M856.2 864.5 L857.6 865.7 L858.1 869.6 L858.4 874.1 L857.9 878.5 L856.2 883.6 L854.5 888.1 L852.3 886.4 L850.0 881.9 L848.3 877.4 L847.8 874.1 L849.5 870.7 L852.8 869.0 L855.1 867.9 L855.6 865.1Z M745.0 818.0 L745.1 815.8 L745.4 819.8 L745.1 823.9 L743.3 821.6 L742.2 819.8 L743.9 823.3 L746.3 826.8 L748.6 829.2 L750.3 833.3 L751.5 835.6 L749.2 831.5 L746.8 828.0 L745.1 829.2 L744.3 833.8 L743.9 838.5 L743.3 844.3 L742.8 850.2 L741.6 855.4 L739.8 858.3 L736.9 859.5 L732.8 860.1 L729.3 858.9 L725.8 858.3 L722.9 859.5 L718.8 857.4 L714.8 857.8 L709.5 858.9 L704.8 858.3 L700.2 857.2 L694.9 855.8 L689.7 856.2 L685.0 856.6 L680.9 856.9 L678.6 854.8 L675.7 853.9 L671.6 854.8 L669.3 857.2 L668.7 859.3 L664.0 860.4 L660.5 861.3 L658.8 864.2 L659.9 867.7 L661.7 870.0 L661.1 871.2 L663.4 872.3 L664.0 875.8 L662.8 879.3 L662.8 882.8 L663.4 886.9 L664.6 891.0 M743.6 839.2 L745.0 839.2 L745.0 840.6 L743.6 840.6Z" fill="none" stroke="#000" stroke-width="1.05" stroke-linejoin="round" stroke-linecap="round"/>
<path d="M677.3 669.4 L678.2 671.6 L676.8 674.3 L674.6 676.1 L672.8 676.1 L671.0 678.4 L670.1 679.7 L671.9 682.4 L674.1 684.7 L676.8 686.3 L679.5 685.6 L680.9 683.3 L681.8 681.1 L683.6 681.1 L684.9 683.8 L686.7 686.5 L689.0 687.4 L690.3 687.8 M886.2 444.0 L885.5 447.0 L885.8 450.0 L886.4 451.5 M886.2 490.0 L884.8 495.0 L884.5 498.0 L885.5 502.0 L885.0 506.0 L885.5 511.0 L886.2 516.0 M886.0 530.0 L885.5 533.0 L886.2 535.0 M846.5 672.5 L849.0 672.0 L851.0 671.8 L853.5 672.5 L857.0 672.5 L860.0 672.0 L862.0 673.0 L863.0 675.5 M832.5 700.5 L833.5 703.0 L833.0 707.0 L832.0 711.0 L829.5 713.0 L827.5 714.0 L828.5 716.5 L831.5 717.0 L831.5 719.5 L829.5 722.0 L827.5 722.5 L829.0 724.5 L826.0 725.8 L823.0 725.5 L820.0 727.0 L821.0 729.5 L822.5 732.0 L822.5 735.0 L821.0 738.0 L820.0 740.0 L819.0 739.0 M801.5 734.0 L804.5 733.0 L807.5 733.2 L810.0 732.8 L812.0 735.5 L814.5 736.0 L817.0 737.5 L819.0 739.0 L819.5 741.0 L817.5 742.0 L816.5 744.0 L819.0 744.5 L821.0 742.5 L820.5 741.0 M820.5 744.0 L822.5 746.5 L824.0 749.0 L824.2 751.0 L822.5 753.0 L821.0 755.0 L819.0 756.0 L818.0 758.0 M783.0 739.2 L784.0 742.5 L786.0 744.5 L790.0 744.5 L791.5 747.5 L795.5 749.5 L796.5 751.5 L799.5 752.0 L801.5 754.0 L801.2 758.0 L805.0 758.5 L806.5 756.0 L808.0 754.5 L808.5 756.0 L807.5 759.0 L808.5 760.5 L812.0 762.5 L815.5 765.0 L818.0 764.5 M818.0 758.0 L819.0 761.5 L819.5 764.5 L822.0 766.0 L824.0 765.5 L824.5 763.0 L826.0 761.5 L824.0 759.5 L822.0 758.0 L821.0 755.5 M824.5 766.0 L826.5 767.5 L828.0 770.0 L829.5 771.0 L831.5 770.5 L835.0 770.5 L837.5 772.0 L841.0 773.0 L843.5 774.5 L842.5 777.0 L840.0 779.5 L839.0 783.0 L838.0 786.5 L837.5 790.0 M775.0 870.1 L777.2 872.9 L780.6 874.1 L785.1 872.9 L789.6 872.0 L791.8 875.2 M836.9 795.7 L839.4 796.2 L842.9 795.7 L845.3 795.0 L846.4 793.3 L847.8 792.6 L849.5 793.6 L852.0 794.7 L853.4 793.3 L855.5 794.3 L858.3 796.1 L860.0 796.7 L859.0 798.5 L858.3 800.6 L857.6 803.1 L858.3 804.1 L860.4 804.8 L862.1 806.2 L863.5 807.3 L863.9 809.4 L864.2 811.1 L864.2 814.3 L862.1 815.0 L860.4 815.3 L858.6 816.0 L857.2 813.6 L855.8 812.5 L854.8 813.9 L854.4 816.7 L853.0 819.2 L852.0 821.3 L852.0 823.0 L850.9 822.0 L850.2 819.5 L848.8 818.5 L847.1 817.4 L846.4 815.7 L846.0 813.6 L844.6 814.3 L842.5 816.4 L842.2 818.8 L840.4 820.9 L838.7 821.2 L836.9 820.5 L834.1 821.6 L832.0 822.0 L830.6 820.6 L828.9 818.1 L828.5 815.0 L827.1 813.6 L824.7 813.6 L822.9 814.3 L822.6 816.4 L821.5 817.8 L820.1 818.1 L819.8 817.1 L821.2 815.7 L821.2 812.9 L822.2 810.8 L824.0 809.4 L825.0 807.6 L825.4 805.9 L827.5 804.5 L829.2 802.4 L831.0 800.3 L830.3 798.5 L831.3 797.1 L833.1 797.5 L834.8 798.3Z M853.7 794.0 L856.5 795.7 L859.0 797.1 M864.2 814.3 L864.7 816.4 M863.5 807.3 L865.3 805.9 L867.0 805.5 L867.7 807.3 L867.7 809.7 L867.4 812.2 L865.6 811.8 L864.2 811.1 L863.9 809.4Z M860.0 796.7 L861.8 796.8 L863.2 797.8 L864.2 799.9 L866.0 800.3 L867.4 798.5 L867.7 796.8 L869.8 796.4 L871.9 796.8 L873.3 798.9 L875.4 798.8 L877.5 797.8 L879.3 796.4 L882.8 795.5 L886.6 795.0 M867.7 807.3 L869.5 806.9 L871.2 808.3 L873.0 808.3 L874.4 806.9 L875.4 805.5 L877.5 805.2 L880.0 804.8 L882.8 804.5 L885.9 803.4 L886.4 806.2 M840.5 777.9 L840.1 780.0 L839.0 783.5 L837.6 787.0 L837.3 790.5 L836.6 794.0 L836.9 795.7 M832.0 822.0 L829.6 823.0 L828.5 824.4 L829.9 826.5 L831.3 828.3 L832.7 829.7 L832.4 831.8 L830.6 833.2 L827.8 833.5 L827.1 834.6 L828.3 836.0 L828.9 837.5 L831.0 838.0 L831.7 839.5 L830.6 841.2 L829.6 842.6 L829.6 844.7 L831.0 846.5 L833.4 847.5 L836.2 847.9 L838.0 847.5 L838.7 849.3 L838.0 850.7 L836.6 852.1 M662.8 879.3 L666.3 877.6 L669.8 878.2 L671.0 881.7 L675.1 881.1 L679.2 880.5 L682.7 879.6 L686.8 880.3 L687.9 883.4 L690.8 885.8 L689.1 888.1 L686.8 890.4 M736.9 859.5 L740.4 861.3 L742.2 864.2 L745.7 865.3 L749.8 867.7 L753.3 868.3 L756.8 869.4 L762.0 869.4 L764.9 867.1 L767.8 868.3 L771.3 870.0 L772.5 872.9 L775.1 870.4 M771.3 870.0 L773.7 869.8 L775.4 871.8" fill="none" stroke="#000" stroke-width="1.4" stroke-linejoin="round" stroke-linecap="round"/>
<path d="M687.5 519.3 L688.2 520.6 L689.1 522.0 L688.8 523.6 L687.9 523.3 L687.5 522.4 L687.0 521.5 L687.3 520.3Z M683.4 526.6 L684.6 526.9 L685.7 527.8 L685.8 528.7 L684.8 528.4 L683.9 527.5Z M683.0 535.6 L684.0 535.9 L685.5 537.4 L686.4 540.1 L685.7 540.9 L684.6 539.5 L683.6 537.7Z M744.2 557.9 L745.4 556.1 L746.9 554.0 L748.4 553.4 L748.9 554.6 L748.4 556.7 L747.2 556.7 L746.0 557.3 L745.1 558.4Z M742.3 573.2 L743.8 573.2 L743.8 574.0 L742.3 574.0Z" fill="#000" stroke="#000" stroke-width="0.8" stroke-linejoin="round"/>
<line x1="439.5" y1="321.5" x2="439.5" y2="890.5" stroke="#b0b0b0" stroke-width="1"/>
<line x1="545.5" y1="321.5" x2="545.5" y2="890.5" stroke="#b0b0b0" stroke-width="1"/>
<line x1="651.5" y1="321.5" x2="651.5" y2="890.5" stroke="#b0b0b0" stroke-width="1"/>
<line x1="757.5" y1="321.5" x2="757.5" y2="890.5" stroke="#b0b0b0" stroke-width="1"/>
<line x1="863.5" y1="321.5" x2="863.5" y2="890.5" stroke="#b0b0b0" stroke-width="1"/>
<line x1="344.5" y1="456.5" x2="886.5" y2="456.5" stroke="#b0b0b0" stroke-width="1"/>
<line x1="344.5" y1="572.5" x2="886.5" y2="572.5" stroke="#b0b0b0" stroke-width="1"/>
<line x1="344.5" y1="670.5" x2="886.5" y2="670.5" stroke="#b0b0b0" stroke-width="1"/>
<line x1="344.5" y1="757.5" x2="886.5" y2="757.5" stroke="#b0b0b0" stroke-width="1"/>
<line x1="344.5" y1="836.5" x2="886.5" y2="836.5" stroke="#b0b0b0" stroke-width="1"/>
<g fill="none" stroke="#000" stroke-width="1.8" stroke-linejoin="miter"><path d="M502.1 460.4 L505.4 448.8 L515.4 448.8 L519.6 460.4 M505.4 448.8 L502.6 441.6 M510.3 448.8 L510.3 442.2 M515.4 448.8 L517.6 442.2"/></g><ellipse cx="504.9" cy="460.3" rx="3.1" ry="2.1"/><ellipse cx="516.4" cy="460.1" rx="3.4" ry="1.4"/>
</g>
<rect x="344.5" y="321.5" width="542.0" height="569.0" fill="none" stroke="#000" stroke-width="1.1"/>
</svg>
</body></html>
